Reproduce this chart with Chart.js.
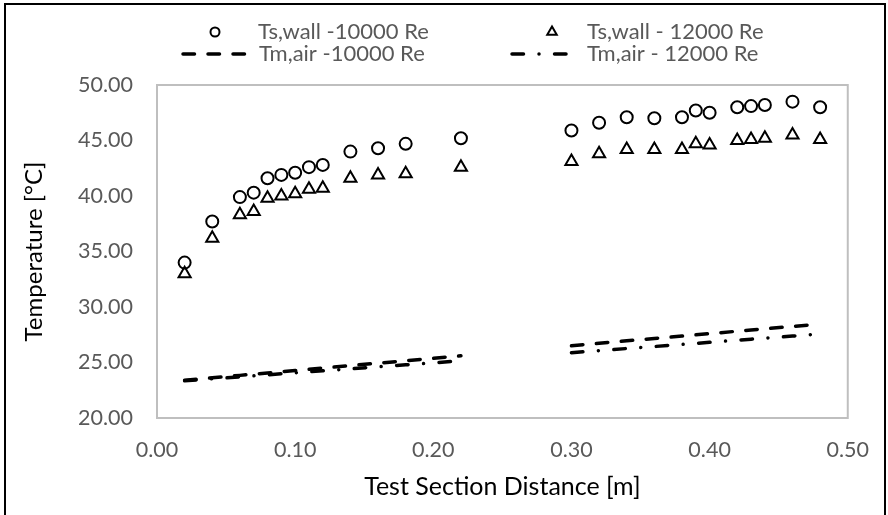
<!DOCTYPE html>
<html>
<head>
<meta charset="utf-8">
<script src="https://cdn.jsdelivr.net/npm/chart.js@4/dist/chart.umd.min.js"></script>
<style>
    html, body { margin: 0; padding: 0; background: #fff; }
    #wrap { position: relative; width: 888px; height: 515px; }
    #tempChart { position: absolute; left: 0; top: 0; }
    #frame {
        position: absolute; left: 4px; top: 3px; width: 878px; height: 520px;
        border: 2px solid #000; border-bottom: none; pointer-events: none;
    }
</style>
</head>
<body>
<div id="wrap">
    <canvas id="tempChart" width="888" height="515"></canvas>
    <div id="frame"></div>
</div>
<script>

// measuring stations along the test section [m]
const xWall = [0.02, 0.04, 0.06, 0.07, 0.08, 0.09, 0.10, 0.11, 0.12, 0.14, 0.16, 0.18, 0.22,
               0.30, 0.32, 0.34, 0.36, 0.38, 0.39, 0.40, 0.42, 0.43, 0.44, 0.46, 0.48];

// surface wall temperature [°C]
const wall10000 = [34.0, 37.7, 39.9, 40.3, 41.6, 41.9, 42.1, 42.6, 42.8, 44.0, 44.3, 44.7, 45.2,
                   45.9, 46.6, 47.1, 47.0, 47.1, 47.7, 47.5, 48.0, 48.1, 48.2, 48.5, 48.0];
const wall12000 = [33.0, 36.2, 38.3, 38.6, 39.8, 40.0, 40.2, 40.6, 40.7, 41.6, 41.9, 42.0, 42.6,
                   43.1, 43.8, 44.2, 44.2, 44.2, 44.7, 44.6, 45.0, 45.1, 45.2, 45.5, 45.1];

// mean air temperature [°C], null breaks the line between the two sections
const xAir = [0.02, 0.04, 0.06, 0.07, 0.08, 0.09, 0.10, 0.11, 0.12, 0.14, 0.16, 0.18, 0.22, 0.26,
              0.30, 0.32, 0.34, 0.36, 0.38, 0.39, 0.40, 0.42, 0.43, 0.44, 0.46, 0.48];
const air10000 = [23.40, 23.62, 23.84, 23.95, 24.06, 24.17, 24.28, 24.39, 24.50, 24.72, 24.94, 25.16, 25.60, null,
                  26.51, 26.73, 26.95, 27.16, 27.38, 27.49, 27.60, 27.82, 27.93, 28.04, 28.25, 28.46];
const air12000 = [23.35, 23.53, 23.71, 23.80, 23.89, 23.98, 24.07, 24.16, 24.25, 24.43, 24.61, 24.79, 25.15, null,
                  25.88, 26.07, 26.26, 26.44, 26.63, 26.72, 26.82, 27.01, 27.10, 27.19, 27.38, 27.57];

const seriesNames = ['Ts,wall -10000 Re', 'Ts,wall - 12000 Re', 'Tm,air -10000 Re', 'Tm,air - 12000 Re'];

const FONT = 'Lato, "Open Sans", sans-serif';
const GREY = '#595959';
const DASH = [11.5, 13.5];
const DASH_DOT = [11.5, 15.5, 0.01, 15.5];

const toPoints = (xs, ys) => xs.map((x, i) => ({ x: x, y: ys[i] }));

// grey box round the plot area
const plotBox = {
    id: 'plotBox',
    beforeDatasetsDraw(chart) {
        const a = chart.chartArea;
        const ctx = chart.ctx;
        ctx.save();
        ctx.strokeStyle = '#bfbfbf';
        ctx.lineWidth = 2;
        ctx.strokeRect(a.left, a.top, a.right - a.left, a.bottom - a.top);
        ctx.restore();
    }
};

// two-row legend above the plot
const legendRows = {
    id: 'legendRows',
    afterDraw(chart) {
        const ctx = chart.ctx;
        const items = [
            { ds: 0, mx: 215, y: 32, tx: 258 },
            { ds: 1, mx: 552, y: 32, tx: 587 },
            { ds: 2, x0: 183, x1: 257, y: 54, tx: 259 },
            { ds: 3, x0: 512, x1: 571, y: 54, tx: 587 },
        ];
        ctx.save();
        items.forEach(it => {
            const ds = chart.data.datasets[it.ds];
            if (it.mx !== undefined) {
                ctx.fillStyle = '#fff';
                ctx.strokeStyle = '#000';
                ctx.lineWidth = 2;
                Chart.helpers.drawPoint(ctx, {
                    pointStyle: ds.pointStyle, radius: ds.pointRadius - 1.5, borderWidth: 2
                }, it.mx, it.y);
            } else {
                ctx.beginPath();
                ctx.setLineDash(ds.borderDash);
                ctx.lineCap = 'round';
                ctx.lineWidth = ds.borderWidth;
                ctx.strokeStyle = '#000';
                ctx.moveTo(it.x0, it.y);
                ctx.lineTo(it.x1, it.y);
                ctx.stroke();
                ctx.setLineDash([]);
            }
            ctx.fillStyle = GREY;
            ctx.font = '22px ' + FONT;
            ctx.textBaseline = 'middle';
            ctx.textAlign = 'left';
            ctx.fillText(ds.label, it.tx, it.y);
        });
        ctx.restore();
    }
};

new Chart(document.getElementById('tempChart'), {
    type: 'scatter',
    data: {
        datasets: [
            {
                label: seriesNames[0],
                data: toPoints(xWall, wall10000),
                pointStyle: 'circle',
                pointRadius: 6,
                borderWidth: 2,
                borderColor: '#000',
                backgroundColor: 'rgba(0,0,0,0)',
            },
            {
                label: seriesNames[1],
                data: toPoints(xWall, wall12000),
                pointStyle: 'triangle',
                pointRadius: 7,
                borderWidth: 2,
                borderColor: '#000',
                backgroundColor: 'rgba(0,0,0,0)',
            },
            {
                label: seriesNames[2],
                data: toPoints(xAir, air10000),
                showLine: true,
                spanGaps: false,
                pointRadius: 0,
                borderWidth: 3.5,
                borderColor: '#000',
                borderDash: DASH,
                borderCapStyle: 'round',
            },
            {
                label: seriesNames[3],
                data: toPoints(xAir, air12000),
                showLine: true,
                spanGaps: false,
                pointRadius: 0,
                borderWidth: 3.5,
                borderColor: '#000',
                borderDash: DASH_DOT,
                borderCapStyle: 'round',
            },
        ]
    },
    options: {
        responsive: false,
        animation: false,
        layout: { padding: { top: 85, right: 40, left: 0, bottom: 0 } },
        plugins: {
            legend: { display: false },
            tooltip: { enabled: false },
        },
        scales: {
            x: {
                type: 'linear',
                min: 0,
                max: 0.5,
                afterFit: s => { s.height = 97; },
                grid: { display: false, drawTicks: false },
                border: { display: false },
                ticks: {
                    stepSize: 0.1,
                    padding: 19,
                    color: GREY,
                    font: { family: FONT, size: 21.5 },
                    callback: v => v.toFixed(2),
                },
                title: {
                    display: true,
                    text: 'Test Section Distance [m]',
                    color: '#000',
                    font: { family: FONT, size: 25 },
                    padding: { top: 0, bottom: 13 },
                },
            },
            y: {
                min: 20,
                max: 50,
                afterFit: s => { s.width = 157; },
                grid: { display: false, drawTicks: false },
                border: { display: false },
                ticks: {
                    stepSize: 5,
                    padding: 24,
                    color: GREY,
                    font: { family: FONT, size: 21.5 },
                    callback: v => v.toFixed(2),
                },
                title: {
                    display: true,
                    text: 'Temperature [°C]',
                    color: '#000',
                    font: { family: FONT, size: 24 },
                    padding: { top: 20, bottom: 0 },
                },
            },
        }
    },
    plugins: [plotBox, legendRows],
});

</script>
</body>
</html>
